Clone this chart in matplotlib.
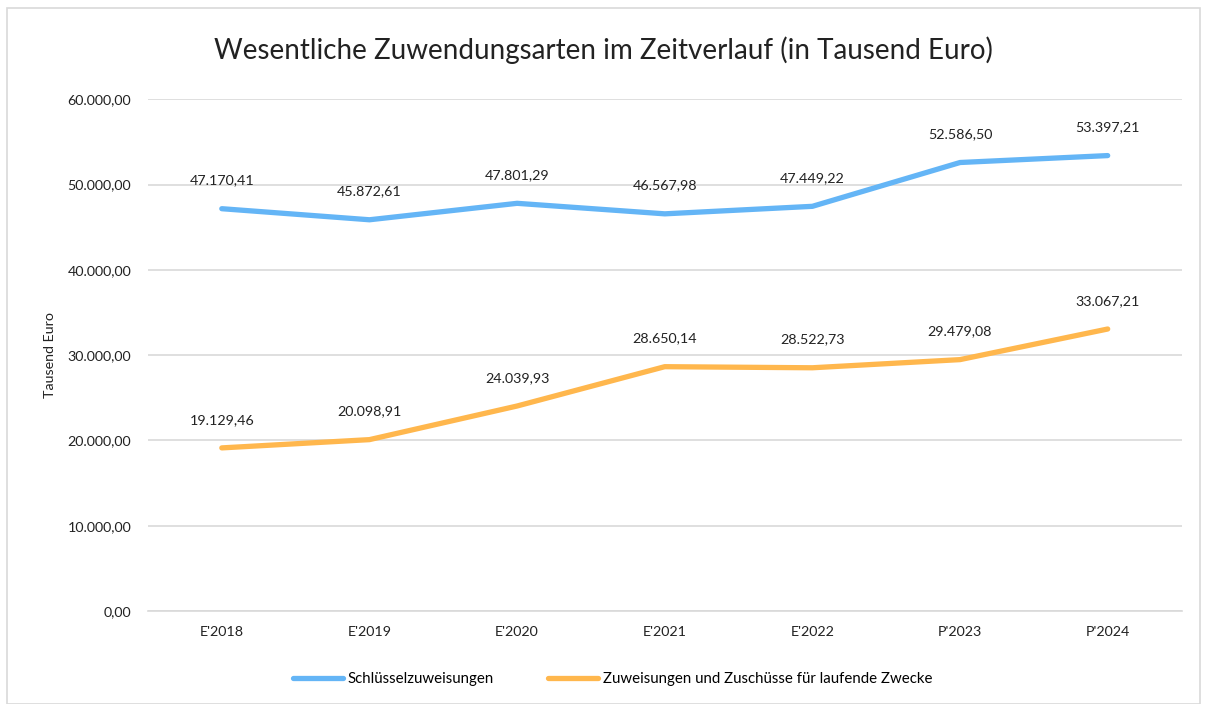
import matplotlib.pyplot as plt
from matplotlib.patches import Rectangle

plt.rcParams['font.family'] = ['Lato', 'DejaVu Sans']

categories = ["E'2018", "E'2019", "E'2020", "E'2021", "E'2022", "P'2023", "P'2024"]
schluessel = [47170.41, 45872.61, 47801.29, 46567.98, 47449.22, 52586.50, 53397.21]
zuweisungen = [19129.46, 20098.91, 24039.93, 28650.14, 28522.73, 29479.08, 33067.21]
yticks = [0, 10000, 20000, 30000, 40000, 50000, 60000]


def de_fmt(v):
    s = f"{v:,.2f}"
    return s.replace(",", "X").replace(".", ",").replace("X", ".")


fig = plt.figure(figsize=(12.06, 7.04), dpi=100)
ax = fig.add_axes([0.1227, 0.132, 0.857, 0.727])

fig.patches.append(Rectangle((0.006, 0.0), 0.989, 0.988, transform=fig.transFigure,
                             fill=False, edgecolor="#d9d9d9", linewidth=1.2))

x = list(range(len(categories)))
ax.plot(x, schluessel, color="#64B5F6", linewidth=3.8, solid_capstyle="round",
        label="Schlüsselzuweisungen")
ax.plot(x, zuweisungen, color="#FFB74D", linewidth=3.8, solid_capstyle="round",
        label="Zuweisungen und Zuschüsse für laufende Zwecke")

for xi, v in zip(x, schluessel):
    ax.annotate(de_fmt(v), (xi, v), xytext=(0, 16), textcoords="offset points",
                ha="center", va="bottom", fontsize=10.3, color="#222222")
for xi, v in zip(x, zuweisungen):
    ax.annotate(de_fmt(v), (xi, v), xytext=(0, 16), textcoords="offset points",
                ha="center", va="bottom", fontsize=10.3, color="#222222")

ax.set_xlim(-0.5, len(categories) - 0.5)
ax.set_ylim(0, 60000)
ax.set_yticks(yticks)
ax.set_yticklabels([de_fmt(v) for v in yticks])
ax.set_xticks(x)
ax.set_xticklabels(categories)
ax.tick_params(axis="both", length=0, labelsize=10.3, colors="#222222")
ax.tick_params(axis="y", pad=12)
ax.tick_params(axis="x", pad=11)
ax.grid(axis="y", color="#d9d9d9", linewidth=1.2)
ax.set_axisbelow(True)
for s in ["top", "right", "left"]:
    ax.spines[s].set_visible(False)
ax.spines["bottom"].set_color("#d9d9d9")
ax.spines["bottom"].set_linewidth(1.2)

ax.set_ylabel("Tausend Euro", fontsize=10.3, color="#222222", labelpad=8)
fig.suptitle("Wesentliche Zuwendungsarten im Zeitverlauf (in Tausend Euro)",
             fontsize=20, y=0.948, color="#222222")

fig.legend(loc="lower center", bbox_to_anchor=(0.508, 0.006), ncol=2, frameon=False,
           fontsize=10.8, handlelength=3.3, handletextpad=0.35, columnspacing=3.6)

fig.savefig("out.png", dpi=100)
